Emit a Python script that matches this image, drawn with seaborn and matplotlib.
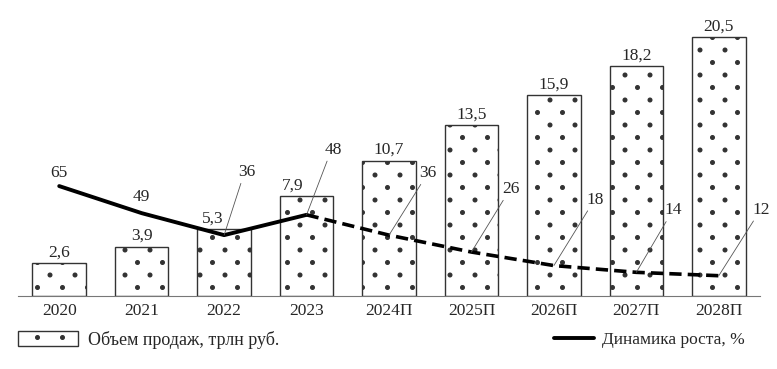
import matplotlib.pyplot as plt
import matplotlib.patches as mpatches
import matplotlib.lines as mlines
from matplotlib import hatch as mhatch
import seaborn as sns
import numpy as np
import pandas as pd

years = ['2020', '2021', '2022', '2023', '2024П', '2025П', '2026П', '2027П', '2028П']
sales = [2.6, 3.9, 5.3, 7.9, 10.7, 13.5, 15.9, 18.2, 20.5]   # трлн руб.
growth = [65, 49, 36, 48, 36, 26, 18, 14, 12]                  # %
n_fact = 4  # first 4 years are actual, the rest is forecast

# where the growth labels sit relative to their point, in pixels
growth_offsets = [(0, 13), (0, 16), (23, 63), (27, 65), (39, 62),
                  (39, 63), (41, 66), (37, 62), (42, 66)]


class SparseDots(mhatch.Circles):
    # '.' hatch, but dots 1/4" apart in a row and rows 1/8" apart (staggered)
    size = 0.1
    filled = True

    def __init__(self, hatch, density):
        self.num_rows = 8 if '.' in hatch else 0
        super().__init__(hatch, density)
        if self.num_rows:
            self.num_shapes = 41
            self.num_vertices = 41 * len(self.shape_vertices)

    def set_vertices_and_codes(self, vertices, codes):
        dot = self.shape_vertices * 0.018
        parts = []
        for row in range(9):
            xs = [0, 0.25, 0.5, 0.75, 1.0] if row % 2 == 0 else [0.125, 0.375, 0.625, 0.875]
            for x in xs:
                parts.append(dot + [x, row / 8])
        np.concatenate(parts, out=vertices)
        np.concatenate([self.shape_codes] * len(parts), out=codes)


mhatch._hatch_types[mhatch._hatch_types.index(mhatch.SmallFilledCircles)] = SparseDots

sns.set_style('white')
plt.rcParams['font.family'] = ['Liberation Serif', 'DejaVu Serif']
plt.rcParams['hatch.color'] = 'black'
plt.rcParams['hatch.linewidth'] = 1.0

df = pd.DataFrame({'year': years, 'sales': sales, 'growth': growth})
df['pos'] = np.arange(len(df))

fig, ax = plt.subplots(figsize=(7.77, 3.69), dpi=100)
fig.subplots_adjust(left=18/777, right=760/777, bottom=73/369, top=1 - 8/369)

sns.barplot(data=df, x='year', y='sales', ax=ax, color='white', saturation=1,
            edgecolor='#333333', linewidth=1.0, width=0.65, hatch='.', errorbar=None)
bar_txt = ax.bar_label(ax.containers[0],
                       labels=[f'{v:.1f}'.replace('.', ',') for v in sales],
                       padding=2, fontsize=12.5)
# 5,3 and 7,9 are pushed left, away from the growth line and its leaders
bar_txt[2].xyann = (-8, 2)
bar_txt[3].xyann = (-10, 2)

ax.set_xlim(-0.5, 8.5)
ax.set_ylim(0, 22.8)
ax.set_xlabel('')
ax.set_ylabel('')
ax.set_yticks([])
ax.tick_params(axis='x', length=0, pad=5, labelsize=12.5)
sns.despine(ax=ax, left=True)
ax.spines['bottom'].set_color('#777777')

ax2 = ax.twinx()
sns.lineplot(data=df.iloc[:n_fact], x='pos', y='growth', ax=ax2,
             color='black', linewidth=2.8)
sns.lineplot(data=df.iloc[n_fact - 1:], x='pos', y='growth', ax=ax2,
             color='black', linewidth=2.6, linestyle=(0, (3.4, 1.7)))
ax2.set_ylim(0, 22.8 * 7.47)
ax2.set_yticks([])
ax2.set_xlabel('')
ax2.set_ylabel('')
for s in ax2.spines.values():
    s.set_visible(False)

for i, (v, (dx, dy)) in enumerate(zip(growth, growth_offsets)):
    arrow = None
    if dx:
        arrow = dict(arrowstyle='-', color='#555555', lw=0.6,
                     shrinkA=0, shrinkB=0, relpos=(0.2, 0))
    ax2.annotate(str(v), xy=(i, v), xytext=(dx, dy), textcoords='offset pixels',
                 ha='center', va='center', fontsize=12.5, arrowprops=arrow)

bar_handle = mpatches.Patch(facecolor='white', edgecolor='#333333', hatch='.',
                            label='Объем продаж, трлн руб.')
line_handle = mlines.Line2D([], [], color='black', lw=2.8, label='Динамика роста, %')
fig.legend(handles=[bar_handle], loc='center left', bbox_to_anchor=(18/777, 1 - 340/369),
           frameon=False, fontsize=13, handlelength=3.3, handleheight=0.9,
           handletextpad=0.55, borderpad=0, borderaxespad=0)
fig.legend(handles=[line_handle], loc='center right', bbox_to_anchor=(745/777, 1 - 340/369),
           frameon=False, fontsize=12.5, handlelength=2.35, handletextpad=0.45,
           borderpad=0, borderaxespad=0)

fig.savefig('out.png', dpi=100)
